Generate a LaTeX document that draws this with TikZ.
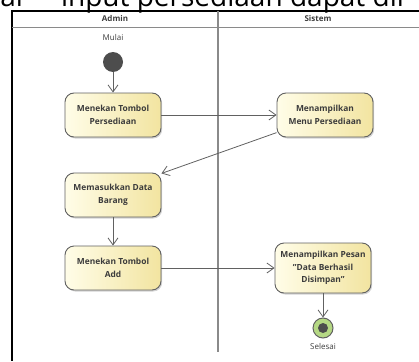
\documentclass[tikz,border=0pt]{standalone}
\usepackage{fontspec}
\setmainfont{Open Sans}
\usetikzlibrary{arrows.meta,shadows}
\definecolor{lanegray}{HTML}{8A8A8A}
\definecolor{edgegray}{HTML}{616161}
\definecolor{actlight}{HTML}{FFFDE8}
\definecolor{actdark}{HTML}{F2E4A0}
\definecolor{textgray}{HTML}{3C3C3C}
\definecolor{endgreen}{HTML}{B5D884}
\definecolor{dotgray}{HTML}{4D4D4D}
\tikzset{
  action/.style={draw=edgegray, line width=0.9pt, rounded corners=9pt,
    left color=actlight, right color=actdark,
    minimum width=96pt, minimum height=44pt, align=center,
    font=\fontsize{8.4}{12.8}\selectfont\bfseries, text=textgray,
    drop shadow={opacity=0.35, shadow xshift=1.2pt, shadow yshift=-1.5pt}},
  flow/.style={draw=edgegray, line width=0.8pt,
    -{Straight Barb[length=7pt,width=10pt]}},
  startdot/.style={circle, fill=dotgray, minimum size=20pt, inner sep=0pt},
  enddot/.style={circle, draw=edgegray, line width=1pt, fill=endgreen,
    minimum size=20pt, inner sep=0pt},
  lbl/.style={font=\fontsize{8}{10}\selectfont, text=textgray, inner sep=1pt},
  lanehead/.style={font=\fontsize{8}{10}\selectfont\bfseries, text=textgray}
}

\begin{document}
\begin{tikzpicture}[x=1pt,y=-1pt]
  \useasboundingbox (0,0) rectangle (419,361);

  % Caption cut off at the top
  \begin{scope}
    \clip (0,0) rectangle (419,361);
    \node[anchor=base west, inner sep=0pt, font=\fontsize{28}{28}\selectfont] (judul) at (-17,7) {nal\hspace{38pt}input persediaan dapat dil};
  \end{scope}

  % Swimlanes
  \draw[black, line width=2pt] (11,11) -- (419,11);
  \draw[black, line width=2pt] (12,11) -- (12,361);
  \draw[lanegray, line width=1pt] (12,28) -- (419,28);
  \draw[lanegray, line width=1.5pt] (218,11) -- (218,352);
  \node[lanehead] (admin) at (115,19) {Admin};
  \node[lanehead] (sistem) at (318,19) {Sistem};

  % Start
  \node[lbl] (mulai) at (113,38) {Mulai};
  \node[startdot] (start) at (113,62) {};

  % Actions
  \node[action] (n1) at (113,115) {Menekan Tombol\\Persediaan};
  \node[action] (n2) at (325,115) {Menampilkan\\Menu Persediaan};
  \node[action] (n3) at (113,195) {Memasukkan Data\\Barang};
  \node[action] (n4) at (113,268) {Menekan Tombol\\Add};
  \node[action, minimum height=50pt] (n5) at (323,268) {Menampilkan Pesan\\"Data Berhasil\\Disimpan"};

  % End
  \node[enddot] (stop) at (323,328) {};
  \fill[dotgray] (stop.center) circle (5pt);
  \node[lbl] (selesai) at (323,346) {Selesai};

  % Flows
  \draw[flow] (start) -- (n1);
  \draw[flow] (n1) -- (n2);
  \draw[flow] (n2.200) -- (n3.24);
  \draw[flow] (n3) -- (n4);
  \draw[flow] (n4) -- (n5);
  \draw[flow] (n5) -- (stop);
\end{tikzpicture}
\end{document}
